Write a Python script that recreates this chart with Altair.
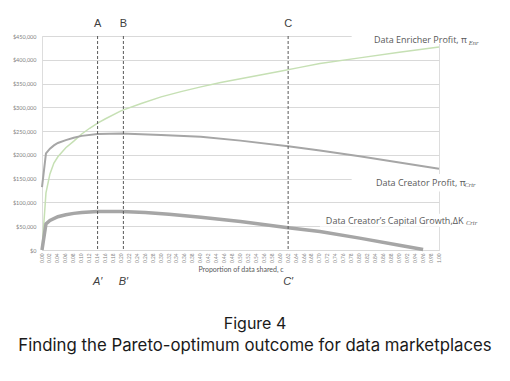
import altair as alt
import pandas as pd

# ---------------- data (values in $) ----------------
enr_x = [0.00, 0.01, 0.02, 0.03, 0.04, 0.06, 0.08, 0.10, 0.12, 0.14, 0.16, 0.20, 0.25,
         0.30, 0.35, 0.40, 0.45, 0.50, 0.55, 0.60, 0.65, 0.70, 0.80, 0.90, 1.00]
enr_v = [0, 120000, 160000, 183000, 196000, 215000, 229000, 244000, 256000, 267000, 276000,
         293000, 308000, 322000, 333000, 343000, 352000, 360000, 368000, 376000, 384000,
         392000, 404000, 416000, 427000]

crtr_x = [0.00, 0.01, 0.02, 0.03, 0.04, 0.06, 0.08, 0.10, 0.14, 0.20, 0.30, 0.40, 0.50,
          0.62, 0.70, 0.80, 0.90, 1.00]
crtr_v = [132000, 203000, 213000, 220000, 225000, 231000, 236000, 240000, 244000, 245000,
          242000, 238000, 230000, 218000, 209000, 197000, 184000, 171000]

cap_x = [0.00, 0.01, 0.02, 0.04, 0.06, 0.08, 0.10, 0.14, 0.20, 0.26, 0.32, 0.40, 0.50,
         0.62, 0.70, 0.80, 0.90, 0.96]
cap_v = [0, 55000, 62000, 70000, 74000, 77000, 79000, 81000, 81000, 79000, 75000, 69000,
         60000, 47000, 39000, 25000, 10000, 1000]

marker_x = [0.14, 0.205, 0.62]
marker_top = ["A", "B", "C"]
marker_bottom = ["A\u2032", "B\u2032", "C\u2032"]

tick_values = [round(i * 0.02, 2) for i in range(51)]
y_ticks = [0, 50000, 100000, 150000, 200000, 250000, 300000, 350000, 400000, 450000]

series_label = ["Data Enricher Profit, \u03c0", "Data Creator Profit, \u03c0",
                "Data Creator\u2019s Capital Growth,\u0394K"]
series_label_x = [0.836, 0.841, 0.715]
series_label_y = [441000, 141000, 61000]
sub_text = ["Enr", "Crtr", "Crtr"]
sub_x = [1.075, 1.064, 1.068]

box_x1 = [0.78, 0.78, 0.70]
box_x2 = [1.17, 1.17, 1.17]
box_y1 = [433000, 123000, 49000]
box_y2 = [470000, 160000, 76000]

caption1 = "Figure 4"
caption2 = "Finding the Pareto-optimum outcome for data marketplaces"

# ---------------- chart ----------------
xs = alt.Scale(domain=[0, 1], nice=False, zero=False)
ys = alt.Scale(domain=[0, 450000], nice=False)

x_axis = alt.Axis(values=tick_values, format=".2f", labelAngle=270, labelFontSize=4.8,
                  labelColor="#7f7f7f", labelOverlap=False, labelPadding=3, ticks=False,
                  domainColor="#d9d9d9", grid=False, title="Proportion of data shared, c",
                  titleFontSize=7, titleColor="#595959", titleFontWeight="normal",
                  titlePadding=3, labelFont="Lato", titleFont="Lato", labelFlush=False)
y_axis = alt.Axis(values=y_ticks, format="$,.0f", labelFontSize=5.5, labelColor="#7f7f7f",
                  labelPadding=6, ticks=False, domain=False, gridColor="#d9d9d9",
                  gridWidth=1, title=None, labelFont="Lato", labelOverlap=False)


def X(field):
    return alt.X(field, type="quantitative", scale=xs, axis=x_axis)


def Y(field):
    return alt.Y(field, type="quantitative", scale=ys, axis=y_axis)


df_enr = pd.DataFrame({"x": enr_x, "v": enr_v})
df_crtr = pd.DataFrame({"x": crtr_x, "v": crtr_v})
df_cap = pd.DataFrame({"x": cap_x, "v": cap_v})
df_mark = pd.DataFrame({"x": marker_x, "top": marker_top, "bottom": marker_bottom,
                        "y1": [450000] * 3, "y0": [0] * 3})
df_lab = pd.DataFrame({"lx": series_label_x, "ly": series_label_y, "t": series_label,
                       "ux": sub_x, "u": sub_text,
                       "bx1": box_x1, "bx2": box_x2, "by1": box_y1, "by2": box_y2})

boxes = alt.Chart(df_lab).mark_rect(color="white").encode(
    x=X("bx1"), x2="bx2", y=Y("by1"), y2="by2")

line_enr = alt.Chart(df_enr).mark_line(color="#c6e0b4", strokeWidth=1.5).encode(
    x=X("x"), y=Y("v"))
line_crtr = alt.Chart(df_crtr).mark_line(color="#a6a6a6", strokeWidth=2).encode(
    x=X("x"), y=Y("v"))
line_cap = alt.Chart(df_cap).mark_line(color="#a6a6a6", strokeWidth=3.5).encode(
    x=X("x"), y=Y("v"))

rules = alt.Chart(df_mark).mark_rule(color="#595959", strokeDash=[3, 2], strokeWidth=1).encode(
    x=X("x"), y=Y("y1"), y2="y0")

top_text = alt.Chart(df_mark).mark_text(font="Liberation Sans", fontSize=11, color="#404040",
                                        baseline="middle").encode(
    x=X("x"), y=alt.value(-12), text="top:N")
bot_text = alt.Chart(df_mark).mark_text(font="Liberation Sans", fontSize=11, color="#404040",
                                        baseline="middle", fontStyle="italic").encode(
    x=X("x"), y=alt.value(246), text="bottom:N")

lab_text = alt.Chart(df_lab).mark_text(font="Open Sans", fontSize=9, color="#595959",
                                       align="left", baseline="middle").encode(
    x=X("lx"), y=Y("ly"), text="t:N")
sub_t = alt.Chart(df_lab).mark_text(font="Liberation Serif", fontSize=6.5, color="#595959",
                                    align="left", baseline="middle", fontStyle="italic", dy=2.5).encode(
    x=X("ux"), y=Y("ly"), text="u:N")

cap1 = alt.Chart(pd.DataFrame({"t": [caption1]})).mark_text(
    font="Inter", fontSize=16, color="#1a1a1a", baseline="middle", align="center").encode(
    x=alt.value(213), y=alt.value(288), text="t:N")
cap2 = alt.Chart(pd.DataFrame({"t": [caption2]})).mark_text(
    font="Inter", fontSize=16.8, color="#1a1a1a", baseline="middle", align="center").encode(
    x=alt.value(213), y=alt.value(310), text="t:N")

chart = alt.layer(boxes, line_enr, line_crtr, line_cap, rules, top_text, bot_text,
                  lab_text, sub_t, cap1, cap2).properties(
    width=397, height=214,
    padding={"left": 34, "top": 28, "right": 60, "bottom": 120},
    autosize=alt.AutoSizeParams(type="none"),
).configure_view(stroke=None).configure(background="white")

chart.save("out.html", embed_options={"renderer": "svg", "actions": False})
